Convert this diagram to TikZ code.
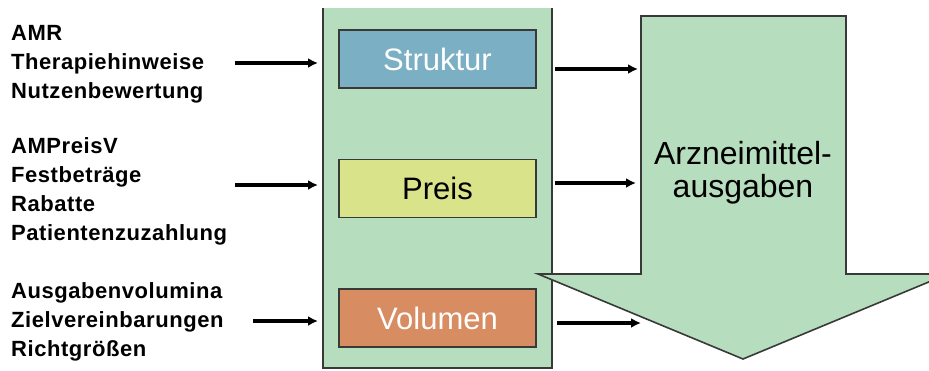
\documentclass[tikz,border=0pt]{standalone}
\usepackage{fontspec}
\setmainfont{Liberation Sans}
\newfontfamily\leverfont[LetterSpace=2.5]{Liberation Sans}
\usetikzlibrary{arrows.meta}
\definecolor{panelgreen}{RGB}{181,221,190}
\definecolor{strukturblue}{RGB}{123,175,196}
\definecolor{preisyellow}{RGB}{216,227,138}
\definecolor{volumenorange}{RGB}{216,140,98}
\definecolor{edgegray}{RGB}{55,58,55}
\tikzset{
	flow/.style={line width=3.4pt, -{Latex[length=10pt,width=10pt]}},
	field/.style={draw=edgegray, line width=1.6pt, minimum width=197pt, minimum height=58pt, inner sep=0pt, font=\fontsize{31}{33}\selectfont},
	lever/.style={anchor=west, align=left, inner sep=0pt, font=\leverfont\bfseries\fontsize{22}{29}\selectfont},
}
\begin{document}
\begin{tikzpicture}[x=1pt,y=-1pt]
		\useasboundingbox (0,0) rectangle (929,370);
		\fill[panelgreen] (323,8) rectangle (552,368);
		\draw[edgegray, line width=1.6pt] (323,8) -- (323,368) -- (552,368) -- (552,8);
		\node[field, fill=strukturblue, text=white] (struktur) at (437.5,59) {Struktur};
		\node[field, fill=preisyellow, text=black] (preis) at (437.5,188.5) {Preis};
		\node[field, fill=volumenorange, text=white] (volumen) at (437.5,318) {Volumen};
		\filldraw[fill=panelgreen, draw=edgegray, line width=1.6pt] (641,16) -- (846,16) -- (846,274) -- (948,274) -- (743,359) -- (538,274) -- (641,274) -- cycle;
		\node[align=center, font=\fontsize{32}{33}\selectfont] (ausgaben) at (743,173) {Arzneimittel-\\ausgaben};
		\node[lever] (lblStruktur) at (11,64) {AMR\\Therapiehinweise\\Nutzenbewertung};
		\node[lever] (lblPreis) at (11,191) {AMPreisV\\Festbeträge\\Rabatte\\Patientenzuzahlung};
		\node[lever] (lblVolumen) at (11,322) {Ausgabenvolumina\\Zielvereinbarungen\\Richtgrößen};
		\coordinate (inStruktur) at (235,63);
		\coordinate (atStruktur) at (318,63);
		\coordinate (inPreis) at (235,185);
		\coordinate (atPreis) at (318,185);
		\coordinate (inVolumen) at (253,321);
		\coordinate (atVolumen) at (318,321);
		\coordinate (outStruktur) at (555,69);
		\coordinate (toStruktur) at (638,69);
		\coordinate (outPreis) at (555,183);
		\coordinate (toPreis) at (636,183);
		\coordinate (outVolumen) at (557,323);
		\coordinate (toVolumen) at (641,323);
		\draw[flow] (inStruktur) -- (atStruktur);
		\draw[flow] (inPreis) -- (atPreis);
		\draw[flow] (inVolumen) -- (atVolumen);
		\draw[flow] (outStruktur) -- (toStruktur);
		\draw[flow] (outPreis) -- (toPreis);
		\draw[flow] (outVolumen) -- (toVolumen);
	\end{tikzpicture}
\end{document}
